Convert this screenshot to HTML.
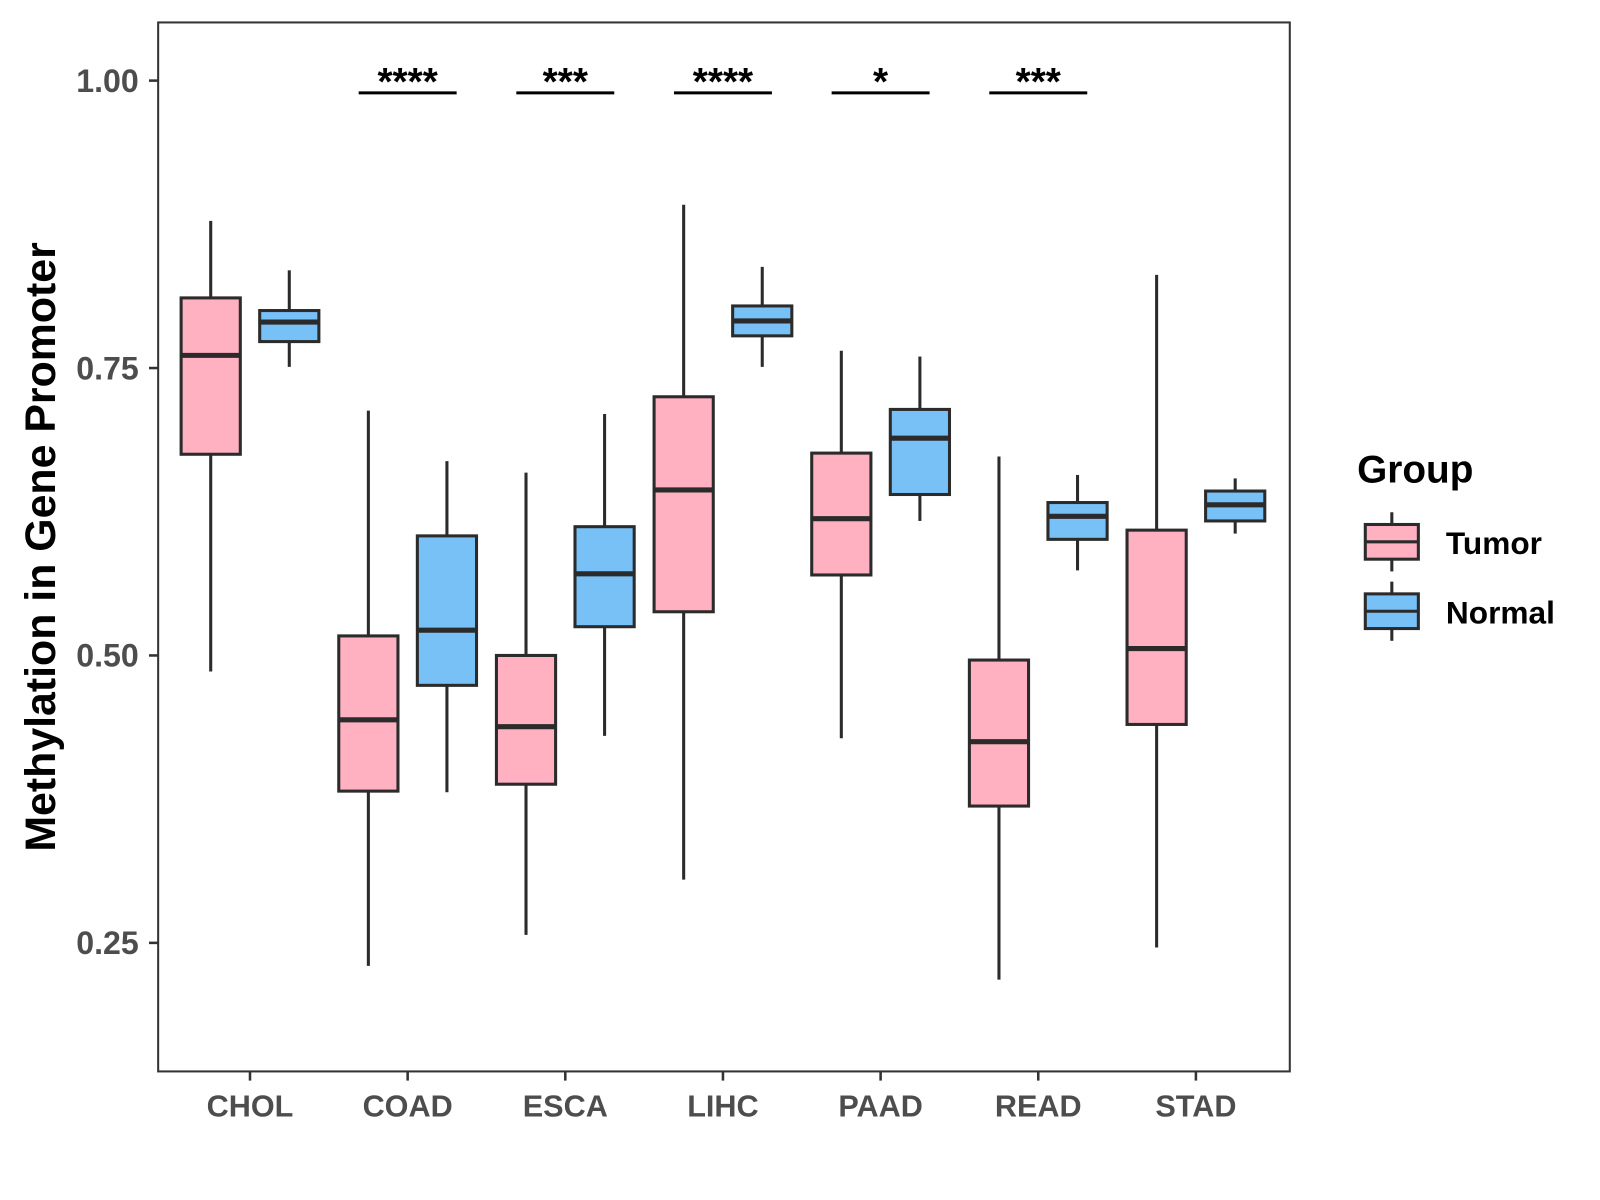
<!DOCTYPE html>
<html><head><meta charset="utf-8"><style>
html,body{margin:0;padding:0;background:#fff}
svg{display:block;font-family:"Liberation Sans",sans-serif}
</style></head><body>
<svg id="chart" width="1600" height="1200" viewBox="0 0 1600 1200">
<g transform="scale(1.0204)">
<rect x="155" y="22" width="1109" height="1028" fill="#fff" stroke="#333" stroke-width="2"/>
<g id="marks"></g>
<text transform="translate(54,536) rotate(-90)" text-anchor="middle" font-size="42" font-weight="bold" fill="#000">Methylation in Gene Promoter</text>
<g>
<text x="1330" y="473" font-size="38" font-weight="bold" fill="#000">Group</text>
<g>
<line x1="1364" y1="502" x2="1364" y2="560" stroke="#2b2b2b" stroke-width="3"/>
<rect x="1338" y="514" width="52" height="34" fill="#FFB0C1" stroke="#2b2b2b" stroke-width="3"/>
<line x1="1338" y1="531" x2="1390" y2="531" stroke="#2b2b2b" stroke-width="3"/>
<text x="1417" y="543" font-size="31" font-weight="bold" fill="#000">Tumor</text></g>
<g>
<line x1="1364" y1="570" x2="1364" y2="628" stroke="#2b2b2b" stroke-width="3"/>
<rect x="1338" y="582" width="52" height="34" fill="#78C1F7" stroke="#2b2b2b" stroke-width="3"/>
<line x1="1338" y1="599" x2="1390" y2="599" stroke="#2b2b2b" stroke-width="3"/>
<text x="1417" y="611" font-size="31" font-weight="bold" fill="#000">Normal</text></g>
</g>
</g>
</svg>
<script>
const categories=["CHOL","COAD","ESCA","LIHC","PAAD","READ","STAD"];
// [low, q1, median, q3, high]
const tumorStats=[[0.486,0.675,0.761,0.811,0.878],[0.230,0.382,0.444,0.517,0.713],[0.257,0.388,0.438,0.500,0.659],[0.305,0.538,0.644,0.725,0.892],[0.428,0.570,0.619,0.676,0.765],[0.218,0.369,0.425,0.496,0.673],[0.246,0.440,0.506,0.609,0.831]];
const normalStats=[[0.751,0.773,0.790,0.800,0.835],[0.381,0.474,0.522,0.604,0.669],[0.430,0.525,0.571,0.612,0.710],[0.751,0.778,0.791,0.804,0.838],[0.617,0.640,0.689,0.714,0.760],[0.574,0.601,0.621,0.633,0.657],[0.606,0.617,0.631,0.643,0.654]];
const sigLabels=["","****","***","****","*","***",""];
const yTicks=[0.25,0.50,0.75,1.00];
const NS="http://www.w3.org/2000/svg";
const g=document.getElementById('marks');
const y=v=>79+(1-v)*1126.7;
const x=i=>245+i*154.5;
function mk(tag,attrs,parent){const e=document.createElementNS(NS,tag);for(const k in attrs)e.setAttribute(k,attrs[k]);(parent||g).appendChild(e);return e;}
yTicks.forEach(t=>{
  const tk=mk('line',{x1:146,x2:155,y1:y(t),y2:y(t),stroke:'#333','stroke-width':2.5});
  
  
  const tl=mk('text',{x:136,y:y(t)+11,'text-anchor':'end','font-size':31.5,'font-weight':'bold',fill:'#4d4d4d'});
  tl.textContent=t.toFixed(2);
  
  
});
function box(cx,s,fill,name){
  const bg=mk('g',{});
  
  
  mk('line',{x1:cx,x2:cx,y1:y(s[4]),y2:y(s[3]),stroke:'#2b2b2b','stroke-width':3},bg);
  mk('line',{x1:cx,x2:cx,y1:y(s[1]),y2:y(s[0]),stroke:'#2b2b2b','stroke-width':3},bg);
  mk('rect',{x:cx-29,y:y(s[3]),width:58,height:y(s[1])-y(s[3]),fill:fill,stroke:'#2b2b2b','stroke-width':3},bg);
  mk('line',{x1:cx-29,x2:cx+29,y1:y(s[2]),y2:y(s[2]),stroke:'#2b2b2b','stroke-width':5},bg);
}
categories.forEach((c,i)=>{
  const cx=x(i);
  box(cx-38.5,tumorStats[i],'#FFB0C1','box-tumor-'+c.toLowerCase());
  box(cx+38.5,normalStats[i],'#78C1F7','box-normal-'+c.toLowerCase());
  const tk=mk('line',{x1:cx,x2:cx,y1:1050,y2:1059,stroke:'#333','stroke-width':2.5});
  
  
  const tl=mk('text',{x:cx,y:1094,'text-anchor':'middle','font-size':30,'font-weight':'bold',fill:'#4d4d4d'});
  tl.textContent=c;
  
  
  if(sigLabels[i]){
    const sl=mk('line',{x1:cx-48,x2:cx+48,y1:91,y2:91,stroke:'#000','stroke-width':3});
    
    
    const st=mk('text',{x:cx,y:93,'text-anchor':'middle','font-size':38,'font-weight':'bold',fill:'#000'});
    st.textContent=sigLabels[i];
    
    
  }
});
</script>
</body></html>
